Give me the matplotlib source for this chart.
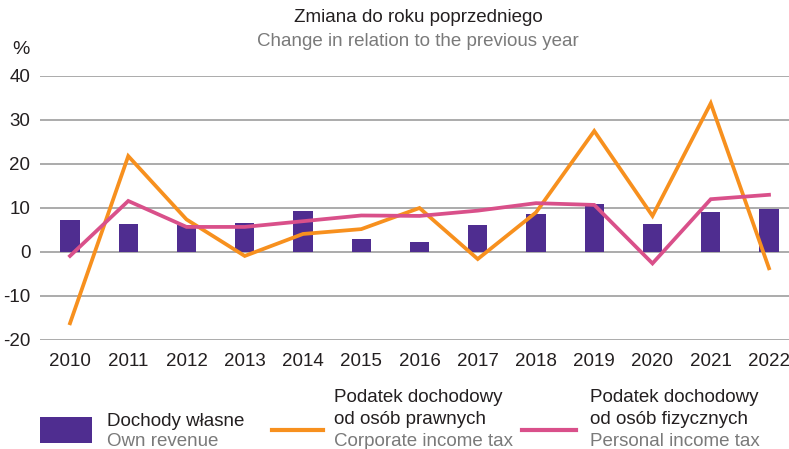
import matplotlib
matplotlib.use("Agg")
import matplotlib.pyplot as plt
from matplotlib.patches import Rectangle
from matplotlib.lines import Line2D

plt.rcParams['font.family'] = ['Liberation Sans', 'DejaVu Sans']
plt.rcParams['axes.unicode_minus'] = False

years = [2010, 2011, 2012, 2013, 2014, 2015, 2016, 2017, 2018, 2019, 2020, 2021, 2022]
own_revenue = [7.3, 6.4, 6.1, 6.6, 9.3, 2.9, 2.3, 6.1, 8.6, 10.9, 6.4, 9.1, 9.8]
corporate_tax = [-16.2, 21.8, 7.4, -0.9, 4.1, 5.2, 10.0, -1.6, 9.0, 27.5, 8.2, 33.8, -3.7]
personal_tax = [-0.9, 11.6, 5.7, 5.7, 7.0, 8.3, 8.2, 9.4, 11.1, 10.7, -2.6, 12.0, 13.0]
y_ticks = [-20, -10, 0, 10, 20, 30, 40]

PURPLE = '#4f2d90'
ORANGE = '#f7901e'
PINK = '#d9508a'
GRID = '#ababab'
DARK = '#231f20'
GRAYTXT = '#7a7a7a'
FS = 13.5

W, H = 789, 449
fig = plt.figure(figsize=(W / 100, H / 100), dpi=100)
ax = fig.add_axes([40 / W, 1 - 340 / H, 1 - 40 / W, (340 - 76) / H])

ax.bar(years, own_revenue, width=0.33, color=PURPLE, zorder=2)
ax.plot(years, corporate_tax, color=ORANGE, lw=2.7, zorder=3, solid_joinstyle='miter')
ax.plot(years, personal_tax, color=PINK, lw=2.7, zorder=4, solid_joinstyle='miter')

ax.set_ylim(-20, 40)
ax.set_xlim(2010 - 30 / 58.25, 2022 + 20 / 58.25)
ax.set_yticks(y_ticks)
ax.set_xticks(years)
ax.set_xticklabels([str(y) for y in years])
ax.yaxis.grid(True, color=GRID, lw=1.4, zorder=0)
ax.set_axisbelow(True)
for s in ax.spines.values():
    s.set_visible(False)
ax.tick_params(axis='both', length=0, labelsize=13.5, colors=DARK)
ax.tick_params(axis='y', pad=7)
ax.tick_params(axis='x', pad=9)

fig.text(418 / W, 1 - 18 / H, 'Zmiana do roku poprzedniego', ha='center', va='center',
         fontsize=FS, color=DARK)
fig.text(418 / W, 1 - 41 / H, 'Change in relation to the previous year', ha='center', va='center',
         fontsize=FS, color=GRAYTXT)
fig.text(12 / W, 1 - 50 / H, '%', ha='left', va='center', fontsize=14, color=DARK)

# legend
fig.patches.append(Rectangle((40 / W, 1 - 443 / H), 52 / W, 26 / H, transform=fig.transFigure,
                             facecolor=PURPLE, edgecolor='none'))
fig.text(107 / W, 1 - 421 / H, 'Dochody własne', ha='left', va='center', fontsize=FS, color=DARK)
fig.text(107 / W, 1 - 441 / H, 'Own revenue', ha='left', va='center', fontsize=FS, color=GRAYTXT)

fig.lines.append(Line2D([272 / W, 323 / W], [1 - 430 / H, 1 - 430 / H], transform=fig.transFigure,
                        color=ORANGE, lw=3))
fig.text(334 / W, 1 - 398 / H, 'Podatek dochodowy', ha='left', va='center', fontsize=FS, color=DARK)
fig.text(334 / W, 1 - 419 / H, 'od osób prawnych', ha='left', va='center', fontsize=FS, color=DARK)
fig.text(334 / W, 1 - 441 / H, 'Corporate income tax', ha='left', va='center', fontsize=FS, color=GRAYTXT)

fig.lines.append(Line2D([522 / W, 576 / W], [1 - 430 / H, 1 - 430 / H], transform=fig.transFigure,
                        color=PINK, lw=3))
fig.text(590 / W, 1 - 398 / H, 'Podatek dochodowy', ha='left', va='center', fontsize=FS, color=DARK)
fig.text(590 / W, 1 - 419 / H, 'od osób fizycznych', ha='left', va='center', fontsize=FS, color=DARK)
fig.text(590 / W, 1 - 441 / H, 'Personal income tax', ha='left', va='center', fontsize=FS, color=GRAYTXT)

fig.savefig('out.png', dpi=100)
